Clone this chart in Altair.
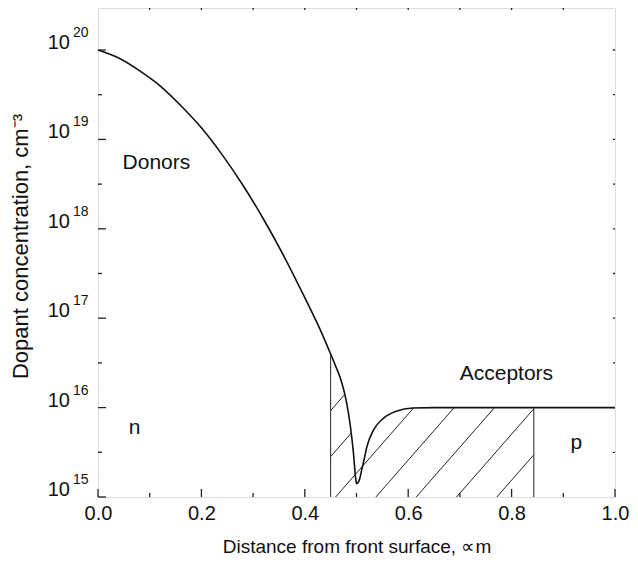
import numpy as np
import pandas as pd
import altair as alt

# ---------------- data ----------------
# net dopant concentration curve (x in um, log10 of concentration)
curve_x = [0.0, 0.04, 0.08, 0.12, 0.16, 0.2, 0.24, 0.28, 0.32, 0.36, 0.4, 0.43,
           0.45, 0.46, 0.471, 0.48, 0.488, 0.494, 0.4985, 0.5, 0.506, 0.51, 0.514,
           0.52, 0.533, 0.552, 0.577, 0.609, 0.65, 1.0]
curve_log = [20.0, 19.91, 19.77, 19.60, 19.38, 19.13, 18.83, 18.49, 18.11, 17.69,
             17.23, 16.87, 16.6, 16.46, 16.29, 16.08, 15.8, 15.5, 15.2, 15.15,
             15.2, 15.3, 15.4, 15.56, 15.75, 15.88, 15.96, 15.995, 16.0, 16.0]

# hatched (depletion) region
region_left = 0.45
region_right = 0.843
acceptor_log = 16.0
hatch_first_start = 0.4595   # x where the first full hatch line leaves the bottom
hatch_spacing = 0.078        # along x
hatch_slope = 6.6            # decades per um
hatch_switch = 0.492         # left of this the hatch stops at the donor curve

x_major = [0.0, 0.2, 0.4, 0.6, 0.8, 1.0]
x_minor = [0.1, 0.3, 0.5, 0.7, 0.9]
y_decades = [15, 16, 17, 18, 19, 20]
y_halves = [15.5, 16.5, 17.5, 18.5, 19.5]

labels_text = ["Donors", "Acceptors", "n", "p"]
labels_x = [0.113, 0.79, 0.071, 0.925]
labels_log = [18.74, 16.38, 15.77, 15.60]

Y_MIN_EXP = 15.0
Y_MAX_EXP = 20.47

W, H = 517, 489
FONT = "Liberation Sans"

# ---------------- derived tables ----------------
curve_df = pd.DataFrame({"x": curve_x, "y": [10 ** v for v in curve_log]})


def curve_at(u):
    return float(np.interp(u, curve_x, curve_log))


def top_at(u):
    return curve_at(u) if u < hatch_switch else acceptor_log


segs = []
for k in range(-4, 8):
    u0 = hatch_first_start + k * hatch_spacing
    us = max(u0, region_left)
    if us >= region_right:
        continue
    vs = Y_MIN_EXP + hatch_slope * (us - u0)
    if vs >= top_at(us):
        continue
    u = us
    step = 0.0002
    while True:
        un = u + step
        vn = Y_MIN_EXP + hatch_slope * (un - u0)
        if un > region_right or vn > top_at(un):
            break
        u = un
    ue = u
    ve = Y_MIN_EXP + hatch_slope * (ue - u0)
    if ue - us < 0.01:
        continue
    segs.append({"x": us, "x2": ue, "y": 10 ** vs, "y2": 10 ** ve})
hatch_df = pd.DataFrame(segs)

bounds_df = pd.DataFrame({
    "x": [region_left, region_right],
    "y": [10 ** Y_MIN_EXP, 10 ** Y_MIN_EXP],
    "y2": [10 ** curve_at(region_left), 10 ** acceptor_log],
})

xscale = alt.Scale(domain=[0, 1], nice=False, zero=False)
yscale = alt.Scale(type="log", domain=[10 ** Y_MIN_EXP, 10 ** Y_MAX_EXP], nice=False)

x_axis = alt.Axis(values=x_major, format=".1f", ticks=False, domain=False,
                  grid=False, labelFontSize=20, labelFont=FONT, labelFlush=False,
                  labelOverlap=False,
                  labelColor="#111", labelPadding=6,
                  title="Distance from front surface, ∝m",
                  titleFont=FONT, titleFontSize=19, titleFontWeight="normal",
                  titleColor="#111", titlePadding=14)
y_axis = alt.Axis(labels=False, ticks=False, domain=False, grid=False,
                  title="Dopant concentration, cm⁻³",
                  titleFont=FONT, titleFontSize=22, titleFontWeight="normal",
                  titleColor="#111", titlePadding=66, titleY=238)


def X(field="x"):
    return alt.X(f"{field}:Q", scale=xscale, axis=x_axis)


def Y(field="y"):
    return alt.Y(f"{field}:Q", scale=yscale, axis=y_axis)


curve = alt.Chart(curve_df).mark_line(color="#111", strokeWidth=1.6,
                                      interpolate="monotone").encode(x=X(), y=Y())

hatch = alt.Chart(hatch_df).mark_rule(color="#222", strokeWidth=1).encode(
    x=X(), x2="x2:Q", y=Y(), y2="y2:Q")

bounds = alt.Chart(bounds_df).mark_rule(color="#222", strokeWidth=1).encode(
    x=X(), y=Y(), y2="y2:Q")

# inward ticks
ymaj = pd.DataFrame({"y": [10 ** d for d in y_decades]})
ymin = pd.DataFrame({"y": [10 ** d for d in y_halves]})
xmaj = pd.DataFrame({"x": x_major})
xmin = pd.DataFrame({"x": x_minor})
xall = pd.DataFrame({"x": x_minor + x_major[1:-1]})
yall = pd.DataFrame({"y": [10 ** d for d in y_halves + y_decades[1:]]})

tick_style = dict(color="#222", strokeWidth=1.3)
t_left_maj = alt.Chart(ymaj).mark_rule(**tick_style).encode(y=Y(), x=alt.value(0), x2=alt.value(8))
t_left_min = alt.Chart(ymin).mark_rule(**tick_style).encode(y=Y(), x=alt.value(0), x2=alt.value(4))
t_bot_maj = alt.Chart(xmaj).mark_rule(**tick_style).encode(x=X(), y=alt.value(H), y2=alt.value(H - 8))
t_bot_min = alt.Chart(xmin).mark_rule(**tick_style).encode(x=X(), y=alt.value(H), y2=alt.value(H - 4))
t_top = alt.Chart(xall).mark_rule(**tick_style).encode(x=X(), y=alt.value(0), y2=alt.value(2))
t_right = alt.Chart(yall).mark_rule(**tick_style).encode(y=Y(), x=alt.value(W), x2=alt.value(W - 2))

# y tick labels 10^n
ylab_df = pd.DataFrame({"y": [10 ** d for d in y_decades],
                        "exp": [str(d) for d in y_decades]})
ylab_base = alt.Chart(ylab_df).mark_text(font=FONT, fontSize=20, align="right",
                                         baseline="middle", dx=-28, dy=-7,
                                         color="#111").encode(
    y=Y(), x=alt.value(0), text=alt.value("10"))
ylab_exp = alt.Chart(ylab_df).mark_text(font=FONT, fontSize=14, align="left",
                                        baseline="middle", dx=-25, dy=-17,
                                        color="#111").encode(
    y=Y(), x=alt.value(0), text="exp:N")

ann_df = pd.DataFrame({"x": labels_x, "y": [10 ** v for v in labels_log],
                       "t": labels_text})
ann = alt.Chart(ann_df).mark_text(font=FONT, fontSize=21, align="center",
                                  baseline="middle", color="#111").encode(
    x=X(), y=Y(), text="t:N")

chart = alt.layer(curve, hatch, bounds, t_left_maj, t_left_min, t_bot_maj, t_bot_min,
                  t_top, t_right, ylab_base, ylab_exp, ann).properties(
    width=W, height=H,
    autosize=alt.AutoSizeParams(type="none"),
    padding={"left": 90, "top": 0, "right": 15, "bottom": 59},
).configure_view(stroke="#222", strokeWidth=1.5).configure(background="white")

chart.save("out.html", embed_options={"renderer": "svg", "actions": False})
